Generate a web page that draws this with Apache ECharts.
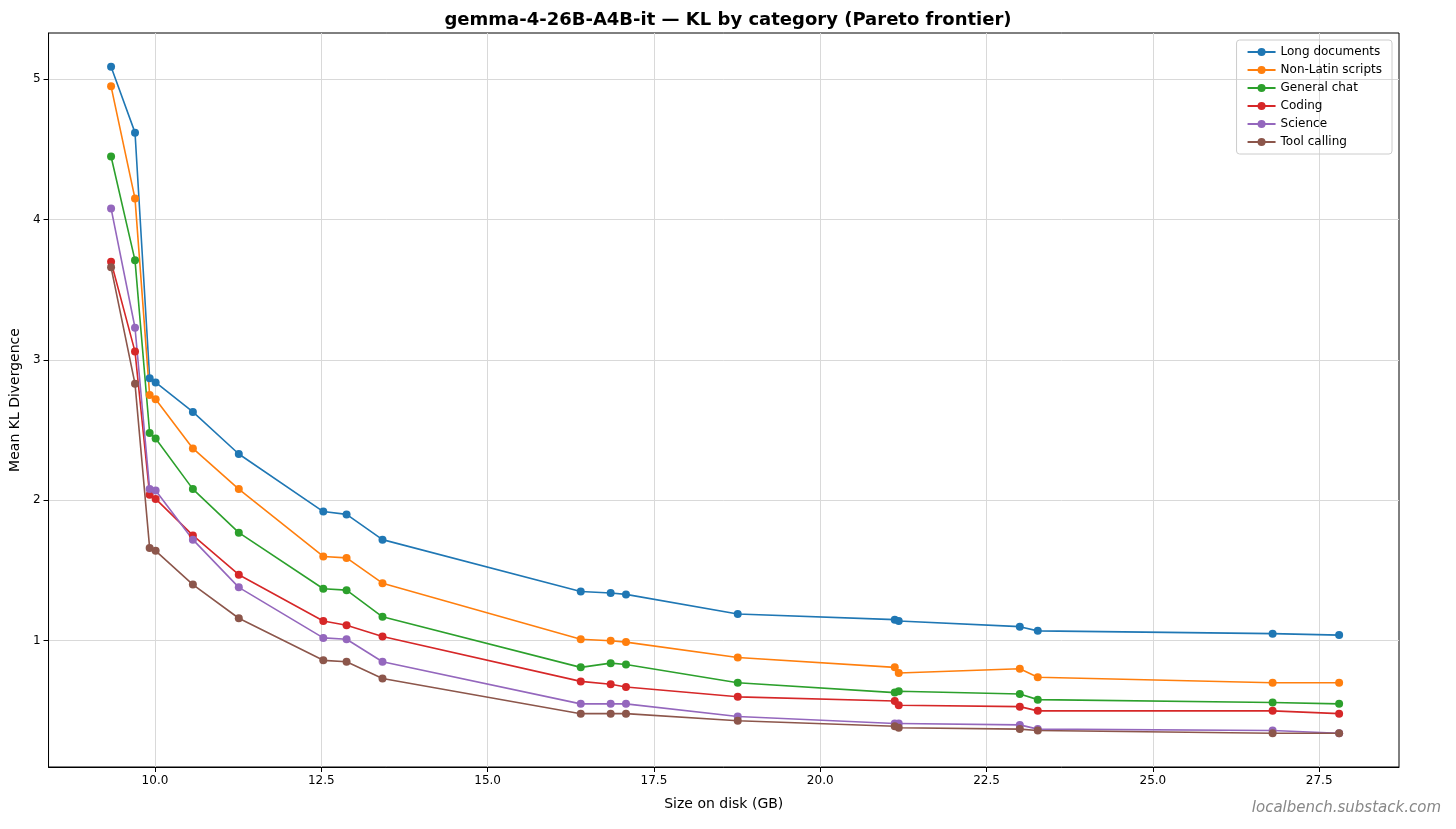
<!DOCTYPE html>
<html>
<head>
<meta charset="utf-8">
<script src="https://cdn.jsdelivr.net/npm/echarts@6/dist/echarts.min.js"></script>
<style>html,body{margin:0;padding:0;background:#fff}#chart{width:1456px;height:829px}</style>
</head>
<body>
<div id="chart"></div>
<script>
// 横轴：磁盘大小 (GB)
const sizes = [9.34, 9.70, 9.92, 10.01, 10.57, 11.26, 12.53, 12.88, 13.42, 16.40, 16.85, 17.08, 18.76, 21.12, 21.18, 23.00, 23.27, 26.80, 27.80];
const categoryNames = ['Long documents', 'Non-Latin scripts', 'General chat', 'Coding', 'Science', 'Tool calling'];
const colors = ['#1f77b4', '#ff7f0e', '#2ca02c', '#d62728', '#9467bd', '#8c564b'];
const longDocs = [5.09, 4.62, 2.87, 2.84, 2.63, 2.33, 1.92, 1.90, 1.72, 1.35, 1.34, 1.33, 1.19, 1.15, 1.14, 1.10, 1.07, 1.05, 1.04];
const nonLatin = [4.95, 4.15, 2.75, 2.72, 2.37, 2.08, 1.60, 1.59, 1.41, 1.01, 1.00, 0.99, 0.88, 0.81, 0.77, 0.80, 0.74, 0.70, 0.70];
const generalChat = [4.45, 3.71, 2.48, 2.44, 2.08, 1.77, 1.37, 1.36, 1.17, 0.81, 0.84, 0.83, 0.70, 0.63, 0.64, 0.62, 0.58, 0.56, 0.55];
const coding = [3.70, 3.06, 2.04, 2.01, 1.75, 1.47, 1.14, 1.11, 1.03, 0.71, 0.69, 0.67, 0.60, 0.57, 0.54, 0.53, 0.50, 0.50, 0.48];
const science = [4.08, 3.23, 2.08, 2.07, 1.72, 1.38, 1.02, 1.01, 0.85, 0.55, 0.55, 0.55, 0.46, 0.41, 0.41, 0.40, 0.37, 0.36, 0.34];
const toolCalling = [3.66, 2.83, 1.66, 1.64, 1.40, 1.16, 0.86, 0.85, 0.73, 0.48, 0.48, 0.48, 0.43, 0.39, 0.38, 0.37, 0.36, 0.34, 0.34];
const seriesValues = [longDocs, nonLatin, generalChat, coding, science, toolCalling];
const xTicks = [10, 12.5, 15, 17.5, 20, 22.5, 25, 27.5];
const yTicks = [1, 2, 3, 4, 5];

const myChart = echarts.init(document.getElementById('chart'));
const font = 'DejaVu Sans';
const option = {
    animation: false,
    textStyle: { fontFamily: font },
    title: [{
        text: 'gemma-4-26B-A4B-it — KL by category (Pareto frontier)',
        left: 'center', top: 6,
        textStyle: { fontSize: 18, fontWeight: 'bold', color: '#000', fontFamily: font }
    }, {
        text: 'localbench.substack.com',
        right: 10, bottom: 8,
        textStyle: { fontSize: 15, fontStyle: 'italic', fontWeight: 'normal', color: '#888', fontFamily: font }
    }],
    legend: {
        orient: 'vertical', right: 64, top: 40,
        borderColor: '#ccc', borderWidth: 1, borderRadius: 3, padding: [6, 10],
        itemGap: 6, itemWidth: 28, itemHeight: 10,
        textStyle: { fontSize: 12, color: '#000' },
        data: categoryNames
    },
    grid: { left: 47, right: 57, top: 33, bottom: 62, show: true, borderColor: '#000', borderWidth: 1 },
    xAxis: {
        type: 'value', min: 8.4, max: 28.7,
        name: 'Size on disk (GB)', nameLocation: 'middle', nameGap: 30,
        nameTextStyle: { fontSize: 14, color: '#000' },
        axisLine: { show: true, onZero: false, lineStyle: { color: '#000' } },
        axisTick: { show: true, customValues: xTicks, lineStyle: { color: '#000' } },
        axisLabel: { customValues: xTicks, color: '#000', fontSize: 12, formatter: v => v.toFixed(1) },
        splitLine: { show: true, lineStyle: { color: '#d9d9d9' } }
    },
    yAxis: {
        type: 'value', min: 0.1, max: 5.33,
        name: 'Mean KL Divergence', nameLocation: 'middle', nameGap: 26,
        nameTextStyle: { fontSize: 14, color: '#000' },
        axisLine: { show: true, lineStyle: { color: '#000' } },
        axisTick: { show: true, customValues: yTicks, lineStyle: { color: '#000' } },
        axisLabel: { customValues: yTicks, color: '#000', fontSize: 12 },
        splitLine: { show: true, lineStyle: { color: '#d9d9d9' } }
    },
    series: categoryNames.map((name, i) => ({
        name: name,
        type: 'line',
        symbol: 'circle', symbolSize: 8,
        itemStyle: { color: colors[i] },
        lineStyle: { width: 1.6, color: colors[i] },
        data: sizes.map((s, j) => [s, seriesValues[i][j]])
    }))
};
myChart.setOption(option);
</script>
</body>
</html>
